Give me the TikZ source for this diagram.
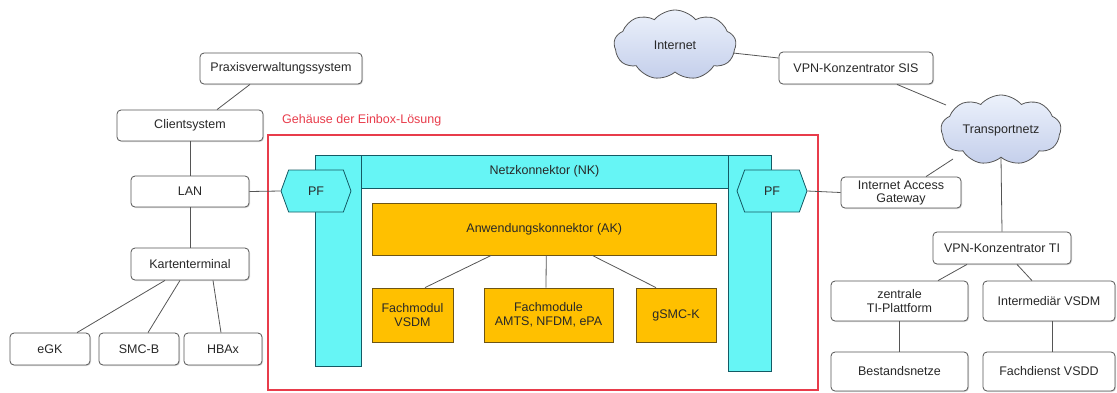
\documentclass[tikz,border=0pt]{standalone}
\usepackage{fontspec}
\setmainfont{Liberation Sans}
\usetikzlibrary{shapes.symbols,shapes.geometric,calc,shadows}

\definecolor{cyanfill}{RGB}{102,245,245}
\definecolor{cyanline}{RGB}{20,90,100}
\definecolor{akfill}{RGB}{255,192,0}
\definecolor{akline}{RGB}{110,85,20}
\definecolor{boxline}{RGB}{85,85,85}
\definecolor{redline}{RGB}{232,60,75}
\definecolor{cloudtop}{RGB}{236,241,251}
\definecolor{cloudbot}{RGB}{196,207,235}
\definecolor{txt}{RGB}{40,40,40}

\begin{document}
\begin{tikzpicture}[x=1pt,y=-1pt,
  font=\fontsize{12.5}{14.5}\selectfont,
  box/.style={draw=boxline, line width=0.8pt, rounded corners=4pt, fill=white,
    inner sep=0pt, align=center, text=txt,
    drop shadow={shadow xshift=1pt,shadow yshift=-1pt,fill=black!25,opacity=0.6}},
  cloudnode/.style={cloud, cloud puffs=9, cloud puff arc=100, cloud ignores aspect,
    draw=boxline, line width=0.8pt, top color=cloudtop, bottom color=cloudbot,
    inner sep=0pt, text=txt},
  cyanrect/.style={rectangle, draw=cyanline, line width=0.8pt, fill=cyanfill, inner sep=0pt, text=txt},
  pf/.style={signal, signal to=west and east, signal pointer angle=140,
    draw=cyanline, line width=0.8pt, fill=cyanfill, minimum width=70pt,
    minimum height=42pt, inner sep=0pt, text=txt},
  ak/.style={rectangle, draw=akline, line width=0.8pt, fill=akfill, inner sep=0pt,
    align=center, text=txt},
  conn/.style={draw=boxline, line width=0.8pt}
]
\useasboundingbox (0,0) rectangle (1117,392);

% left side
\node[box, minimum width=162pt, minimum height=31pt] (prax) at (281,68.5) {Praxisverwaltungssystem};
\node[box, minimum width=146pt, minimum height=31pt] (client) at (190,125.5) {Clientsystem};
\node[box, minimum width=118pt, minimum height=31pt] (lan) at (190,191.5) {LAN};
\node[box, minimum width=118pt, minimum height=32pt] (kt) at (190,264) {Kartenterminal};
\node[box, minimum width=80pt, minimum height=32pt] (egk) at (50,349) {eGK};
\node[box, minimum width=80pt, minimum height=32pt] (smcb) at (139,349) {SMC-B};
\node[box, minimum width=78pt, minimum height=32pt] (hba) at (223,349) {HBAx};

% housing
\node[draw=redline, line width=1.3pt, rectangle, minimum width=550pt, minimum height=255pt, inner sep=0pt] (gehaeuse) at (543,262.5) {};
\node[anchor=west, text=redline, inner sep=0pt] (gehlabel) at (282,120) {Gehäuse der Einbox-Lösung};

% Netzkonnektor
\node[cyanrect, minimum width=367pt, minimum height=33pt] (nkbar) at (544.5,171.5) {Netzkonnektor (NK)};
\node[cyanrect, minimum width=46pt, minimum height=211pt] (nkl) at (338,260.5) {};
\node[cyanrect, minimum width=43pt, minimum height=216pt] (nkr) at (749.5,263) {};
\node[pf] (pfl) at (316,191) {PF};
\node[pf] (pfr) at (772,191) {PF};

% Anwendungskonnektor
\node[ak, minimum width=343.5pt, minimum height=52pt] (akn) at (544.25,229) {Anwendungskonnektor (AK)};
\node[ak, minimum width=81pt, minimum height=54pt] (vsdm) at (412.5,315) {Fachmodul\\VSDM};
\node[ak, minimum width=129pt, minimum height=54pt] (amts) at (548.5,315) {Fachmodule\\AMTS, NFDM, ePA};
\node[ak, minimum width=80pt, minimum height=54pt] (gsmck) at (676,315) {gSMC-K};

% right side
\node[cloudnode, minimum width=122pt, minimum height=70pt] (internet) at (675,45) {Internet};
\node[box, minimum width=154pt, minimum height=32pt] (sis) at (856,68) {VPN-Konzentrator SIS};
\node[cloudnode, minimum width=120pt, minimum height=70pt] (transport) at (1001,130) {Transportnetz};
\node[box, minimum width=120pt, minimum height=31pt, font=\fontsize{12.5}{13}\selectfont] (iag) at (901,192.5) {Internet Access\\Gateway};
\node[box, minimum width=138pt, minimum height=32pt] (vpnti) at (1002,248) {VPN-Konzentrator TI};
\node[box, minimum width=137pt, minimum height=40pt] (zti) at (899.5,301) {zentrale\\TI-Plattform};
\node[box, minimum width=132pt, minimum height=40pt] (inter) at (1049,301) {Intermediär VSDM};
\node[box, minimum width=137pt, minimum height=39pt] (best) at (899.5,371.5) {Bestandsnetze};
\node[box, minimum width=132pt, minimum height=39pt] (fd) at (1049,371.5) {Fachdienst VSDD};

% connectors left
\draw[conn] ($(prax.south)+(-31,0)$) -- ($(client.north)+(27,0)$);
\draw[conn] (client.south) -- (lan.north);
\draw[conn] (lan.south) -- (kt.north);
\draw[conn] ($(kt.south)+(-25,0)$) -- ($(egk.north)+(27,0)$);
\draw[conn] ($(kt.south)+(-10,0)$) -- ($(smcb.north)+(9,0)$);
\draw[conn] ($(kt.south)+(23,0)$) -- ($(hba.north)+(-2,0)$);
\draw[conn] (lan.east) -- (pfl.west);
\draw[conn] (pfr.east) -- (iag.west);

% connectors inside
\draw[conn] ($(akn.south)+(-53,0)$) -- ($(vsdm.north)+(12.5,0)$);
\draw[conn] ($(akn.south)+(2,0)$) -- ($(amts.north)+(-2.5,0)$);
\draw[conn] ($(akn.south)+(48,0)$) -- ($(gsmck.north)+(-20,0)$);

% connectors right
\draw[conn] ($(internet.center)+(58,8)$) -- ($(sis.west)+(0,-10)$);
\draw[conn] ($(sis.south)+(41,0)$) -- ($(transport.center)+(-55,-25)$);
\draw[conn] ($(transport.center)+(-48,29)$) -- ($(iag.north)+(25,0)$);
\draw[conn] (transport.south) -- (vpnti.north);
\draw[conn] ($(vpnti.south)+(-35,0)$) -- ($(zti.north)+(38.5,0)$);
\draw[conn] ($(vpnti.south)+(15,0)$) -- ($(inter.north)+(-17,0)$);
\draw[conn] (zti.south) -- (best.north);
\draw[conn] ($(inter.south)+(3,0)$) -- ($(fd.north)+(3,0)$);
\end{tikzpicture}
\end{document}
